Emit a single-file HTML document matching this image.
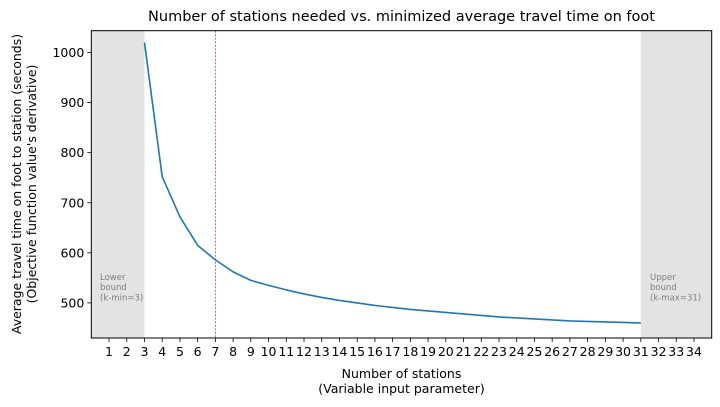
<!DOCTYPE html>
<html><head><meta charset="utf-8"><style>
body{margin:0;background:#fff;}
svg{display:block;font-family:"DejaVu Sans","Liberation Sans",sans-serif;}
</style></head><body>
<svg id="c" width="720" height="407"></svg>
<script>
const categories=[3,4,5,6,7,8,9,10,11,12,13,14,15,16,17,18,19,20,21,22,23,24,25,26,27,28,29,30,31];
const travelTimes=[1020,752,672,615,586,562,545,535,526,518,511,505,500,495,491,487,484,481,478,475,472,470,468,466,464,463,462,461,460];
const xTicks=[1,2,3,4,5,6,7,8,9,10,11,12,13,14,15,16,17,18,19,20,21,22,23,24,25,26,27,28,29,30,31,32,33,34];
const yTicks=[500,600,700,800,900,1000];
const kMin=3, kMax=31, marked=7;
const X0=91.3,X1=711.7,Y0=30.7,Y1=338;
const xmin=0,xmax=35,ymin=430,ymax=1043.5;
const sx=v=>X0+(v-xmin)/(xmax-xmin)*(X1-X0);
const sy=v=>Y1-(v-ymin)/(ymax-ymin)*(Y1-Y0);
const svg=document.getElementById('c');
const NS='http://www.w3.org/2000/svg';
function mk(t,a,txt){const e=document.createElementNS(NS,t);for(const k in a)e.setAttribute(k,a[k]);if(txt!==undefined)e.textContent=txt;svg.appendChild(e);return e;}
let e;
e=mk('rect',{x:sx(xmin),y:Y0,width:sx(kMin)-sx(xmin),height:Y1-Y0,fill:'#e3e3e3'});


e=mk('rect',{x:sx(kMax),y:Y0,width:sx(xmax)-sx(kMax),height:Y1-Y0,fill:'#e3e3e3'});


e=mk('line',{x1:sx(marked),x2:sx(marked),y1:Y0,y2:Y1,stroke:'#d62728','stroke-width':0.7,'stroke-dasharray':'2,1.5'});


const pts=categories.map((c,i)=>sx(c).toFixed(2)+','+sy(travelTimes[i]).toFixed(2)).join(' ');
e=mk('polyline',{points:pts,fill:'none',stroke:'#1f77b4','stroke-width':1.6,'stroke-linejoin':'round'});


e=mk('rect',{x:X0,y:Y0,width:X1-X0,height:Y1-Y0,fill:'none',stroke:'#000','stroke-width':1});


xTicks.forEach(t=>{
 mk('line',{x1:sx(t),x2:sx(t),y1:Y1,y2:Y1+4,stroke:'#000','stroke-width':0.8});
 e=mk('text',{x:sx(t),y:Y1+18,'text-anchor':'middle','font-size':12.5,fill:'#000'},String(t));
 
 
});
yTicks.forEach(t=>{
 mk('line',{x1:X0-4,x2:X0,y1:sy(t),y2:sy(t),stroke:'#000','stroke-width':0.8});
 e=mk('text',{x:X0-7,y:sy(t)+4.5,'text-anchor':'end','font-size':12.5,fill:'#000'},String(t));
 
 
});
function multi(x,y,lines,size,fill,name,anchor){const t=mk('text',{x:x,y:y,'font-size':size,fill:fill,'text-anchor':anchor||'start'});
 
 
 lines.forEach((l,i)=>{const s=document.createElementNS(NS,'tspan');s.setAttribute('x',x);s.setAttribute('dy',i?size*1.2:0);s.textContent=l;t.appendChild(s);});}
multi(100,280,['Lower','bound','(k-min=3)'],8.5,'#808080','lower-bound-label');
multi(650,280,['Upper','bound','(k-max=31)'],8.5,'#808080','upper-bound-label');
e=mk('text',{x:(X0+X1)/2,y:21,'text-anchor':'middle','font-size':14.5,fill:'#000'},'Number of stations needed vs. minimized average travel time on foot');


multi((X0+X1)/2,378,['Number of stations','(Variable input parameter)'],12.5,'#000','x-axis-title','middle');
const g=document.createElementNS(NS,'text');g.setAttribute('transform','translate(21,184) rotate(-90)');g.setAttribute('font-size',12.5);g.setAttribute('text-anchor','middle');


['Average travel time on foot to station (seconds)',"(Objective function value's derivative)"].forEach((l,i)=>{const s=document.createElementNS(NS,'tspan');s.setAttribute('x',0);s.setAttribute('dy',i?15:0);s.textContent=l;g.appendChild(s);});
svg.appendChild(g);
</script>
</body></html>
